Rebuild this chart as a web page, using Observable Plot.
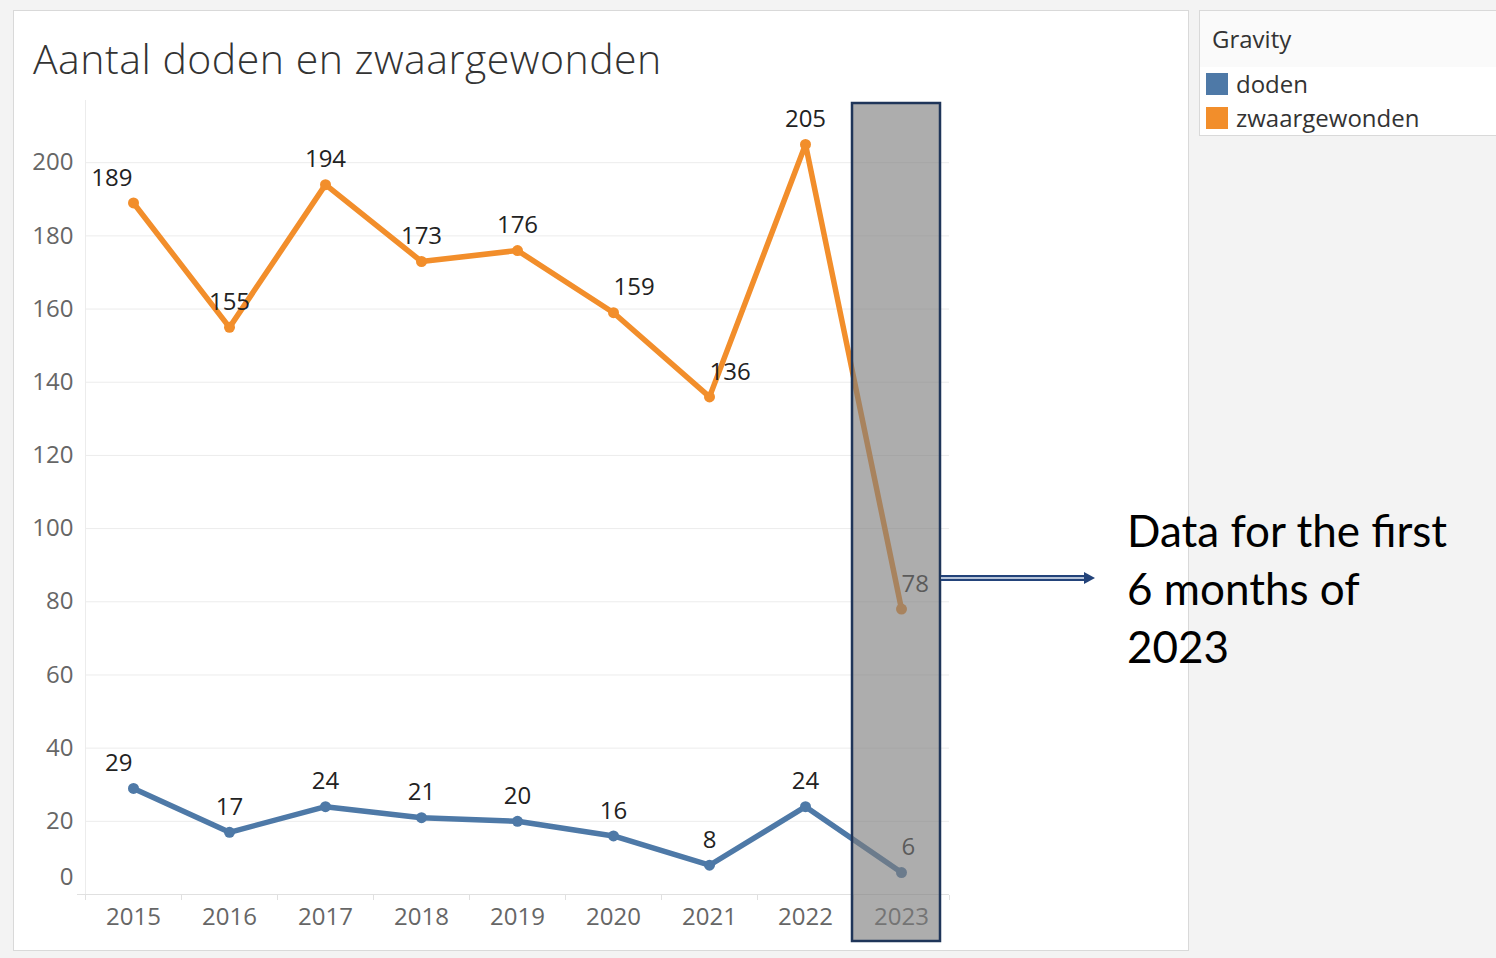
<!DOCTYPE html>
<html>
<head>
<meta charset="utf-8">
<script src="https://cdn.jsdelivr.net/npm/d3@7"></script>
<script src="https://cdn.jsdelivr.net/npm/@observablehq/plot@0.6"></script>
<style>
  html, body { margin: 0; padding: 0; }
  body { width: 1496px; height: 958px; background: #f3f3f3; position: relative; overflow: hidden; font-family: "Open Sans", sans-serif; }
  #panel { position: absolute; left: 13px; top: 10px; width: 1174px; height: 939px; background: #fff; border: 1px solid #d9d9d9; }
  #title { position: absolute; left: 33px; top: 30px; font-family: "Open Sans", sans-serif; font-weight: 300; font-size: 41px; color: #333; letter-spacing: 0.5px; white-space: nowrap; }
  #chart { position: absolute; left: 13px; top: 10px; }
  #legend { position: absolute; left: 1199px; top: 10px; width: 300px; height: 124px; background: #fff; border: 1px solid #d9d9d9; }
  #legend .head { height: 56px; background: #fafafa; color: #333; font-size: 24px; line-height: 56px; padding-left: 12px; }
  #legend .item { position: relative; height: 34px; font-size: 24px; color: #333; line-height: 34px; padding-left: 36px; }
  #legend .sw { position: absolute; left: 6px; top: 6px; width: 22px; height: 22px; }
  #note { position: absolute; left: 1127px; top: 501px; font-family: Lato, "Open Sans", sans-serif; font-size: 44px; line-height: 58px; color: #000; }
  #arrow { position: absolute; left: 0; top: 0; }
</style>
</head>
<body>
<div id="panel"></div>
<div id="title">Aantal doden en zwaargewonden</div>
<div id="chart"></div>
<div id="legend"></div>
<div id="note"></div>
<svg id="arrow" width="1496" height="958"></svg>
<script>
// ---- data ----
const years = ["2015", "2016", "2017", "2018", "2019", "2020", "2021", "2022", "2023"];
const doden = [29, 17, 24, 21, 20, 16, 8, 24, 6];
const zwaargewonden = [189, 155, 194, 173, 176, 159, 136, 205, 78];
const seriesNames = ["doden", "zwaargewonden"];
const seriesColors = ["#4e79a7", "#f28e2b"];
const yTicks = [0, 20, 40, 60, 80, 100, 120, 140, 160, 180, 200];
const legendTitle = "Gravity";
const chartTitle = "Aantal doden en zwaargewonden";
const noteLines = ["Data for the first", "6 months of", "2023"];
const highlightYear = "2023";
// label alignment per point (styling, as placed by the original tool)
const anchorDoden = ["end", "middle", "middle", "middle", "middle", "middle", "middle", "middle", "start"];
const anchorZwaar = ["end", "middle", "middle", "middle", "middle", "start", "start", "middle", "start"];

const rows = [
  ...years.map((y, i) => ({year: y, value: doden[i], series: seriesNames[0], anchor: anchorDoden[i]})),
  ...years.map((y, i) => ({year: y, value: zwaargewonden[i], series: seriesNames[1], anchor: anchorZwaar[i]}))
];

document.getElementById("title").textContent = chartTitle;

const W = 1175, H = 940;
const labelMarks = ["start", "middle", "end"].map(a =>
  Plot.text(rows.filter(d => d.anchor === a), {
    x: "year", y: "value", text: d => String(d.value),
    textAnchor: a, dy: -25, dx: a === "start" ? 0 : a === "end" ? -1 : 0,
    fill: "#222", fontSize: 24
  })
);

const plot = Plot.plot({
  width: W,
  height: H,
  marginLeft: 72,
  marginRight: 239,
  marginTop: 90,
  marginBottom: 56,
  style: {fontFamily: "'Open Sans', sans-serif", fontSize: "24px", color: "#666", background: "transparent", overflow: "visible"},
  x: {type: "band", domain: years, padding: 0, label: null},
  y: {domain: [0, 217], label: null},
  color: {domain: seriesNames, range: seriesColors},
  marks: [
    Plot.ruleY(yTicks.filter(d => d > 0), {stroke: "#ececec", strokeWidth: 1}),
    Plot.ruleY([0], {stroke: "#e0e0e0", strokeWidth: 1, insetLeft: -8}),
    Plot.ruleX([years[0]], {dx: -48, y1: 0, y2: 217, stroke: "#ececec"}),
    Plot.ruleX(years, {dx: -48, y1: 0, y2: 0, insetTop: 1, insetBottom: -6, stroke: "#e0e0e0"}),
    Plot.ruleX([years[years.length - 1]], {dx: 48, y1: 0, y2: 0, insetTop: 1, insetBottom: -6, stroke: "#e0e0e0"}),
    Plot.axisY(yTicks.filter(d => d > 0), {tickSize: 0, tickPadding: 12, fill: "#666", fontSize: 24}),
    Plot.axisY([0], {tickSize: 0, tickPadding: 12, dy: -17, fill: "#666", fontSize: 24}),
    Plot.axisX({tickSize: 0, tickPadding: 13, fill: "#666", fontSize: 24}),
    Plot.line(rows, {x: "year", y: "value", z: "series", stroke: "series", strokeWidth: 5.5, strokeLinejoin: "round", strokeLinecap: "round"}),
    Plot.dot(rows, {x: "year", y: "value", fill: "series", r: 5.5}),
    ...labelMarks,
    Plot.cell([highlightYear], {x: d => d, fill: "#7d7d7d", fillOpacity: 0.63, stroke: "#1f3559", strokeWidth: 2.5,
      insetTop: 3, insetBottom: -47, insetLeft: -1, insetRight: 9})
  ]
});
document.getElementById("chart").appendChild(plot);

// legend
const leg = document.getElementById("legend");
const head = document.createElement("div");
head.className = "head"; head.textContent = legendTitle; leg.appendChild(head);
seriesNames.forEach((s, i) => {
  const it = document.createElement("div");
  it.className = "item";
  it.innerHTML = `<span class="sw" style="background:${seriesColors[i]}"></span>${s}`;
  leg.appendChild(it);
});

// annotation text
document.getElementById("note").innerHTML = noteLines.join("<br>");

// double-line arrow from highlight to note
const a = d3.select("#arrow");
a.append("line").attr("x1", 941).attr("x2", 1086).attr("y1", 578).attr("y2", 578)
  .attr("stroke", "#23437a").attr("stroke-width", 6);
a.append("line").attr("x1", 941).attr("x2", 1088).attr("y1", 578).attr("y2", 578)
  .attr("stroke", "#e8eef8").attr("stroke-width", 1.6);
a.append("path").attr("d", "M1084,572 L1095,578 L1084,584 Z").attr("fill", "#23437a");
</script>
</body>
</html>
